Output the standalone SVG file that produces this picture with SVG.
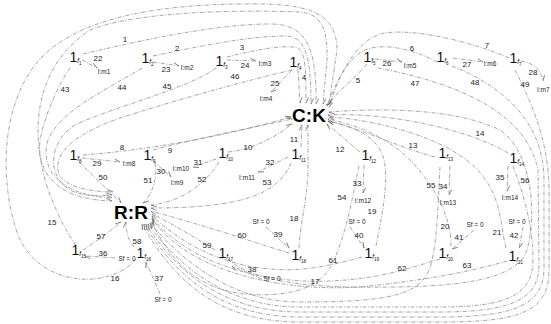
<svg xmlns="http://www.w3.org/2000/svg" width="551" height="324" viewBox="0 0 551 324">
<style>
.b{fill:none;stroke:#808080;stroke-width:0.7;stroke-dasharray:4 1.5 1 1.5;marker-end:url(#a)}
.l{font-family:"Liberation Sans",Arial,sans-serif;font-size:8px;fill:#222;text-anchor:middle}
.j{font-family:"Liberation Sans",Arial,sans-serif;font-size:14px;fill:#111}
.js{font-size:6.5px;font-style:italic}
.jn{font-size:4.5px}
.m{font-family:"Liberation Sans",Arial,sans-serif;font-size:6.5px;fill:#222;text-anchor:middle}
.big{font-family:"Liberation Sans",Arial,sans-serif;font-size:19px;font-weight:bold;fill:#000;text-anchor:middle}
</style>
<defs>
<marker id="a" markerWidth="8" markerHeight="8" refX="7" refY="4" orient="auto" markerUnits="userSpaceOnUse"><path d="M1.5,1.5 L7,4" stroke="#555" stroke-width="0.7" fill="none"/></marker>
</defs>
<rect width="551" height="324" fill="#fff"/>
<g id="connectors">
<path class="b" d="M83,54 C150,38 220,24 270,24 C305,24 317,45 316,104"/>
<path class="b" d="M153,56 C200,46 250,36 285,36 C305,36 311,55 311,104"/>
<path class="b" d="M227,57 C255,50 285,44 298,48 C306,52 306,75 306,103"/>
<path class="b" d="M298,69 L300,103"/>
<path class="b" d="M367,64 C355,78 338,92 326,105"/>
<path class="b" d="M437,62 C415,50 385,42 365,50 C347,58 335,85 327,106"/>
<path class="b" d="M509,58 C480,45 420,28 385,33 C355,38 337,80 329,107"/>
<path class="b" d="M83,155 C150,150 230,135 291,117"/>
<path class="b" d="M153,150 C190,140 250,128 292,119"/>
<path class="b" d="M228,152 C250,150 275,138 292,124"/>
<path class="b" d="M301,147 L302,125"/>
<path class="b" d="M360,152 C348,142 338,133 327,124"/>
<path class="b" d="M435,157 C400,148 360,128 328,121"/>
<path class="b" d="M508,153 C470,130 390,112 328,115"/>
<path class="b" d="M76,245 C66,232 58,215 50,195 C30,140 30,70 90,30 C140,10 250,10 300,12 C322,14 328,30 327,60 L323,104"/>
<path class="b" d="M136,259 C110,290 40,288 18,235 C0,185 0,110 35,65 C70,20 150,5 240,4 C300,3 337,8 337,50 L329,104"/>
<path class="b" d="M228,259 C250,280 300,286 350,287 C440,288 515,285 527,250 C538,210 530,150 500,130 C455,108 380,108 329,112"/>
<path class="b" d="M299,248 C300,225 307,200 308,172 L308,125"/>
<path class="b" d="M376,246 C380,225 388,190 385,165 C382,140 360,128 328,121"/>
<path class="b" d="M451,246 C452,215 430,180 410,160 C385,135 355,125 328,119"/>
<path class="b" d="M506,248 C500,225 502,200 482,175 C455,140 380,120 329,117"/>
<path class="b" d="M82,60 L97,68"/>
<path class="b" d="M153,62 L179,66"/>
<path class="b" d="M227,60 L256,61"/>
<path class="b" d="M292,70 L271,92"/>
<path class="b" d="M375,59 L402,62"/>
<path class="b" d="M453,58 L483,62"/>
<path class="b" d="M521,61 Q540,64 543,81"/>
<path class="b" d="M82,158 L120,162"/>
<path class="b" d="M153,161 L171,177"/>
<path class="b" d="M216,159 L193,167"/>
<path class="b" d="M288,157 L258,172"/>
<path class="b" d="M364,165 L363,193"/>
<path class="b" d="M450,166 L449,195"/>
<path class="b" d="M508,166 L507,191"/>
<path class="b" d="M115,258 L85,256"/>
<path class="b" d="M160,294 L146,262"/>
<path class="b" d="M262,279 L232,266"/>
<path class="b" d="M266,227 L289,248"/>
<path class="b" d="M350,227 L364,248"/>
<path class="b" d="M474,230 L452,249"/>
<path class="b" d="M523,227 L519,248"/>
<path class="b" d="M70,68 C58,85 45,115 40,140 C36,175 60,200 112,201"/>
<path class="b" d="M142,68 C110,88 60,110 48,140 C40,165 55,195 112,198"/>
<path class="b" d="M216,68 C190,88 110,108 75,125 C50,140 45,175 70,190 C85,197 100,196 112,195"/>
<path class="b" d="M292,70 C240,82 170,102 120,118 C80,132 55,150 58,170 C60,188 95,192 113,192"/>
<path class="b" d="M378,68 C440,80 525,105 538,170 L539,265 C539,300 510,312 440,312 L300,312 C230,312 180,278 146,224"/>
<path class="b" d="M452,66 C500,85 544,120 544,180 L544,268 C544,305 515,317 440,317 L300,317 C225,317 178,280 144,224"/>
<path class="b" d="M515,70 C530,100 549,140 549,190 L549,270 C549,312 520,322 440,322 L300,322 C220,322 175,283 142,224"/>
<path class="b" d="M79,162 C92,175 108,190 121,203"/>
<path class="b" d="M155,163 C157,182 152,194 143,203"/>
<path class="b" d="M219,162 C205,185 180,202 151,205"/>
<path class="b" d="M291,163 C278,195 240,208 151,208"/>
<path class="b" d="M359,166 C352,200 345,240 330,268 C315,292 280,297 245,294 C200,290 170,262 152,222"/>
<path class="b" d="M440,167 C438,200 438,240 430,268 C420,295 390,302 300,302 C240,302 190,270 150,223"/>
<path class="b" d="M513,166 C520,185 533,220 533,260 C533,296 505,307 440,307 L300,307 C235,307 185,275 148,224"/>
<path class="b" d="M83,250 C95,242 110,232 121,222"/>
<path class="b" d="M134,247 C128,240 126,232 126,222"/>
<path class="b" d="M215,250 C195,238 175,225 152,214"/>
<path class="b" d="M289,253 C265,246 220,230 151,211"/>
<path class="b" d="M362,257 C330,266 300,272 270,269 C220,265 180,242 152,216"/>
<path class="b" d="M440,259 C410,268 380,279 330,281 C260,284 190,263 152,218"/>
<path class="b" d="M507,261 C470,272 420,281 360,287 C280,292 190,272 153,220"/>
</g>
<g id="labels">
<text class="l" x="125" y="42">1</text><text class="l" x="177" y="51">2</text><text class="l" x="242" y="50">3</text><text class="l" x="304" y="80">4</text><text class="l" x="358" y="83">5</text><text class="l" x="412" y="51">6</text><text class="l" x="487" y="48">7</text>
<text class="l" x="122" y="150">8</text><text class="l" x="170" y="153">9</text><text class="l" x="248" y="150">10</text><text class="l" x="294" y="142">11</text><text class="l" x="340" y="152">12</text><text class="l" x="413" y="148">13</text><text class="l" x="480" y="136">14</text>
<text class="l" x="52" y="225">15</text><text class="l" x="115" y="281">16</text><text class="l" x="315" y="284">17</text><text class="l" x="294" y="221">18</text><text class="l" x="372" y="214">19</text><text class="l" x="445" y="229">20</text><text class="l" x="497" y="235">21</text>
<text class="l" x="98" y="61">22</text><text class="l" x="166" y="72">23</text><text class="l" x="245" y="68">24</text><text class="l" x="275" y="86">25</text><text class="l" x="387" y="66">26</text><text class="l" x="467" y="67">27</text><text class="l" x="533" y="75">28</text>
<text class="l" x="97" y="166">29</text><text class="l" x="161" y="174">30</text><text class="l" x="198" y="165">31</text><text class="l" x="270" y="165">32</text><text class="l" x="357" y="186">33</text><text class="l" x="443" y="189">34</text><text class="l" x="500" y="180">35</text>
<text class="l" x="103" y="256">36</text><text class="l" x="159" y="281">37</text><text class="l" x="252" y="272">38</text><text class="l" x="278" y="237">39</text><text class="l" x="359" y="238">40</text><text class="l" x="459" y="240">41</text><text class="l" x="514" y="238">42</text>
<text class="l" x="65" y="92">43</text><text class="l" x="122" y="90">44</text><text class="l" x="167" y="89">45</text><text class="l" x="235" y="79">46</text><text class="l" x="415" y="86">47</text><text class="l" x="475" y="85">48</text><text class="l" x="525" y="87">49</text>
<text class="l" x="103" y="180">50</text><text class="l" x="148" y="183">51</text><text class="l" x="202" y="182">52</text><text class="l" x="267" y="185">53</text><text class="l" x="342" y="200">54</text><text class="l" x="431" y="188">55</text><text class="l" x="525" y="183">56</text>
<text class="l" x="101" y="239">57</text><text class="l" x="137" y="244">58</text><text class="l" x="207" y="248">59</text><text class="l" x="242" y="238">60</text><text class="l" x="333" y="263">61</text><text class="l" x="402" y="271">62</text><text class="l" x="467" y="268">63</text>
</g>
<g id="CK"><text class="big" x="309" y="122">C:K</text></g>
<g id="RR"><text class="big" x="131" y="219">R:R</text></g>
<g id="f1"><text class="j" x="69.5" y="62">1<tspan class="js" dy="1">f</tspan><tspan class="jn" dy="2">1</tspan></text></g>
<g id="f2"><text class="j" x="141.5" y="63">1<tspan class="js" dy="1">f</tspan><tspan class="jn" dy="2">2</tspan></text></g>
<g id="f3"><text class="j" x="215.5" y="66">1<tspan class="js" dy="1">f</tspan><tspan class="jn" dy="2">3</tspan></text></g>
<g id="f4"><text class="j" x="289.5" y="67">1<tspan class="js" dy="1">f</tspan><tspan class="jn" dy="2">4</tspan></text></g>
<g id="f5"><text class="j" x="363.5" y="62">1<tspan class="js" dy="1">f</tspan><tspan class="jn" dy="2">5</tspan></text></g>
<g id="f6"><text class="j" x="436.5" y="62">1<tspan class="js" dy="1">f</tspan><tspan class="jn" dy="2">6</tspan></text></g>
<g id="f7"><text class="j" x="509.5" y="63">1<tspan class="js" dy="1">f</tspan><tspan class="jn" dy="2">7</tspan></text></g>
<g id="f8"><text class="j" x="69.5" y="160">1<tspan class="js" dy="1">f</tspan><tspan class="jn" dy="2">8</tspan></text></g>
<g id="f9"><text class="j" x="143.5" y="160">1<tspan class="js" dy="1">f</tspan><tspan class="jn" dy="2">9</tspan></text></g>
<g id="f10"><text class="j" x="218.5" y="158">1<tspan class="js" dy="1">f</tspan><tspan class="jn" dy="2">10</tspan></text></g>
<g id="f11"><text class="j" x="291.5" y="159">1<tspan class="js" dy="1">f</tspan><tspan class="jn" dy="2">11</tspan></text></g>
<g id="f12"><text class="j" x="361.5" y="160">1<tspan class="js" dy="1">f</tspan><tspan class="jn" dy="2">12</tspan></text></g>
<g id="f13"><text class="j" x="438.5" y="158">1<tspan class="js" dy="1">f</tspan><tspan class="jn" dy="2">13</tspan></text></g>
<g id="f14"><text class="j" x="509.5" y="163">1<tspan class="js" dy="1">f</tspan><tspan class="jn" dy="2">14</tspan></text></g>
<g id="f15"><text class="j" x="71.5" y="255">1<tspan class="js" dy="1">f</tspan><tspan class="jn" dy="2">15</tspan></text></g>
<g id="f16"><text class="j" x="136.5" y="258">1<tspan class="js" dy="1">f</tspan><tspan class="jn" dy="2">16</tspan></text></g>
<g id="f17"><text class="j" x="218.5" y="258">1<tspan class="js" dy="1">f</tspan><tspan class="jn" dy="2">17</tspan></text></g>
<g id="f18"><text class="j" x="291.5" y="260">1<tspan class="js" dy="1">f</tspan><tspan class="jn" dy="2">18</tspan></text></g>
<g id="f19"><text class="j" x="364.5" y="258">1<tspan class="js" dy="1">f</tspan><tspan class="jn" dy="2">19</tspan></text></g>
<g id="f20"><text class="j" x="438.5" y="258">1<tspan class="js" dy="1">f</tspan><tspan class="jn" dy="2">20</tspan></text></g>
<g id="f21"><text class="j" x="508.5" y="261">1<tspan class="js" dy="1">f</tspan><tspan class="jn" dy="2">21</tspan></text></g>
<g id="Im1"><text class="m" x="104" y="74">I:m1</text></g>
<g id="Im2"><text class="m" x="187" y="70">I:m2</text></g>
<g id="Im3"><text class="m" x="265" y="66">I:m3</text></g>
<g id="Im4"><text class="m" x="266" y="101">I:m4</text></g>
<g id="Im5"><text class="m" x="410" y="68">I:m5</text></g>
<g id="Im6"><text class="m" x="490" y="66">I:m6</text></g>
<g id="Im7"><text class="m" x="537" y="92" style="text-anchor:start">I:m7</text></g>
<g id="Im8"><text class="m" x="129" y="166">I:m8</text></g>
<g id="Im9"><text class="m" x="177" y="185">I:m9</text></g>
<g id="Im10"><text class="m" x="181" y="171">I:m10</text></g>
<g id="Im11"><text class="m" x="247" y="180">I:m11</text></g>
<g id="Im12"><text class="m" x="363" y="203">I:m12</text></g>
<g id="Im13"><text class="m" x="448" y="205">I:m13</text></g>
<g id="Im14"><text class="m" x="510" y="200">I:m14</text></g>
<g id="Sf15"><text class="m" x="127" y="261">Sf = 0</text></g>
<g id="Sf16"><text class="m" x="163" y="302">Sf = 0</text></g>
<g id="Sf17"><text class="m" x="272" y="281">Sf = 0</text></g>
<g id="Sf18"><text class="m" x="261" y="224">Sf = 0</text></g>
<g id="Sf19"><text class="m" x="357" y="224">Sf = 0</text></g>
<g id="Sf20"><text class="m" x="475" y="227">Sf = 0</text></g>
<g id="Sf21"><text class="m" x="517" y="224">Sf = 0</text></g>
</svg>
